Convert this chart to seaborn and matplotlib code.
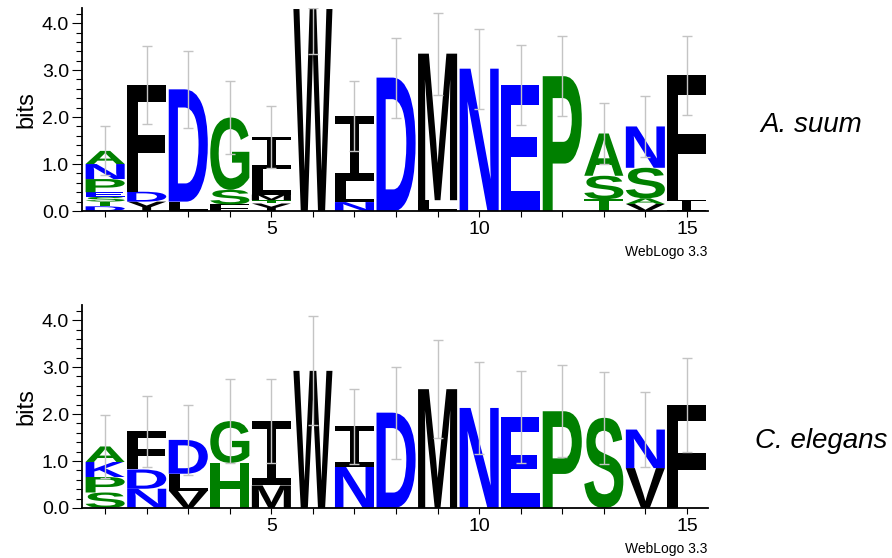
import numpy as np
import matplotlib
matplotlib.use('Agg')
import matplotlib.pyplot as plt
import seaborn as sns
from matplotlib.textpath import TextPath
from matplotlib.patches import PathPatch
from matplotlib.font_manager import FontProperties
from matplotlib.transforms import Affine2D

# letters of each column, bottom -> top, with their heights in bits
positions = list(range(1, 16))

suum_letters = ["DTSEPNA", "YDF", "LD", "FSG", "YTMLI", "W", "NLI", "D",
                "LM", "N", "E", "P", "TSA", "VASN", "IF"]
suum_heights = [[0.1, 0.1, 0.1, 0.1, 0.28, 0.32, 0.28], [0.2, 0.21, 2.27],
                [0.2, 2.39], [0.14, 0.31, 1.54], [0.16, 0.07, 0.12, 0.55, 0.68],
                [4.3], [0.19, 0.45, 1.38], [2.84], [0.23, 3.12], [3.03],
                [2.68], [2.87], [0.25, 0.5, 0.9], [0.15, 0.12, 0.65, 0.88],
                [0.23, 2.66]]
suum_err = [0.52, 0.83, 0.82, 0.78, 0.66, 0.95, 0.74, 0.85, 0.87, 0.85,
            0.85, 0.85, 0.65, 0.64, 0.84]

elegans_letters = ["SPKA", "NDF", "VLD", "HG", "MI", "W", "NI", "D",
                   "M", "N", "E", "P", "S", "VN", "F"]
elegans_heights = [[0.33, 0.33, 0.32, 0.33], [0.41, 0.41, 0.81],
                   [0.37, 0.36, 0.72], [0.96, 0.89], [0.48, 1.37], [2.92],
                   [0.88, 0.86], [2.03], [2.53], [2.13], [1.93], [2.06],
                   [1.92], [0.85, 0.82], [2.2]]
elegans_err = [0.68, 0.75, 0.75, 0.89, 0.89, 1.16, 0.8, 0.98, 1.04, 0.98,
               0.98, 0.98, 0.98, 0.8, 1.0]

species = ["A. suum", "C. elegans"]

green, blue, black = '#008000', '#0000ff', '#000000'
colors = {}
for c in "APGSTH":
    colors[c] = green
for c in "NDEKQR":
    colors[c] = blue
for c in "FYLIMWVC":
    colors[c] = black

sns.set_theme(style='ticks')
plt.rcParams['font.family'] = ['Liberation Sans', 'DejaVu Sans']
plt.rcParams['text.color'] = 'black'
plt.rcParams['axes.labelcolor'] = 'black'
plt.rcParams['xtick.color'] = 'black'
plt.rcParams['ytick.color'] = 'black'

sans_bold = FontProperties(family='Liberation Sans', weight='bold')
# the serif "I" of the logo, thin stem
mono_i = FontProperties(family='Liberation Mono', weight='normal')

YMAX = np.log2(20)


def draw_letter(ax, ch, x, y0, h, width=0.94):
    fp = mono_i if ch == 'I' else sans_bold
    tp = TextPath((0, 0), ch, size=1, prop=fp)
    bb = tp.get_extents()
    tr = (Affine2D().translate(-bb.x0, -bb.y0)
          .scale(width / bb.width, h / bb.height)
          .translate(x - width / 2, y0))
    ax.add_patch(PathPatch(tr.transform_path(tp), fc=colors[ch], ec='none', lw=0))


def draw_logo(ax, letters, heights, errs):
    totals = []
    for x, lets, hs in zip(positions, letters, heights):
        y = 0
        for ch, h in zip(lets, hs):
            draw_letter(ax, ch, x, y, h)
            y += h
        totals.append(y)
    totals = np.array(totals)
    errs = np.array(errs)
    upper = np.minimum(errs, YMAX - totals)
    ax.errorbar(positions, totals, yerr=[errs, upper], fmt='none',
                ecolor='#c4c4c4', elinewidth=1.0, capsize=3.8, capthick=1.0, zorder=5)
    ax.set_xlim(0.45, 15.5)
    ax.set_ylim(0, YMAX)
    ax.set_xticks(positions)
    ax.set_xticklabels([str(p) if p % 5 == 0 else '' for p in positions], fontsize=14)
    ax.set_yticks([0, 1, 2, 3, 4])
    ax.set_yticklabels(['0.0', '1.0', '2.0', '3.0', '4.0'], fontsize=14)
    ax.set_yticks(np.arange(0, 4.4, 0.2), minor=True)
    ax.tick_params(axis='y', which='major', length=7.5, width=0.8, pad=2, color='black')
    ax.tick_params(axis='y', which='minor', length=4, width=0.8, color='black')
    ax.tick_params(axis='x', which='major', length=4, width=0.8, pad=3, color='black')
    ax.set_ylabel('bits', fontsize=17, labelpad=3)
    sns.despine(ax=ax)
    for s in ['left', 'bottom']:
        ax.spines[s].set_linewidth(1.3)
        ax.spines[s].set_color('black')


fig = plt.figure(figsize=(8.92, 5.58), dpi=100)
ax1 = fig.add_axes([82.3 / 892, 1 - 211 / 558, 625.4 / 892, 203 / 558])
ax2 = fig.add_axes([82.3 / 892, 1 - 508 / 558, 625.4 / 892, 203 / 558])

draw_logo(ax1, suum_letters, suum_heights, suum_err)
draw_logo(ax2, elegans_letters, elegans_heights, elegans_err)

fig.text(707 / 892, 1 - 256 / 558, 'WebLogo 3.3', ha='right', va='baseline', fontsize=10)
fig.text(707 / 892, 1 - 553 / 558, 'WebLogo 3.3', ha='right', va='baseline', fontsize=10)

fig.text(760 / 892, 1 - 125 / 558, species[0], ha='left', va='center',
         fontsize=20, style='italic')
fig.text(755 / 892, 1 - 441 / 558, species[1], ha='left', va='center',
         fontsize=20, style='italic')

fig.savefig('out.png', dpi=100, facecolor='white')
